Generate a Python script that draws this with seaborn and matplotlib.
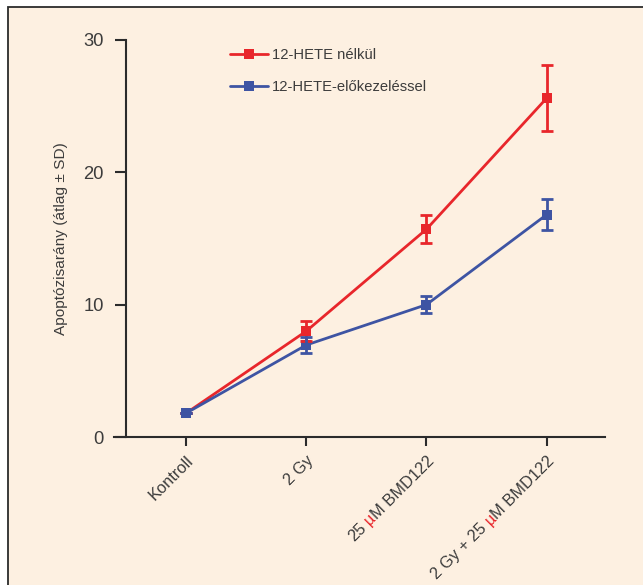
import numpy as np
import pandas as pd
import matplotlib
matplotlib.use("Agg")
import matplotlib.pyplot as plt
import seaborn as sns
from matplotlib import font_manager as fm, transforms
from matplotlib.font_manager import FontProperties
from matplotlib.lines import Line2D
from matplotlib.patches import Rectangle

# ---------------- data ----------------
categories = ["Kontroll", "2 Gy", "25 µM BMD122", "2 Gy + 25 µM BMD122"]
series_names = ["12-HETE nélkül", "12-HETE-előkezeléssel"]
red_mean = [1.8, 8.0, 15.7, 25.6]
red_sd = [0.0, 0.75, 1.05, 2.5]
blue_mean = [1.8, 6.95, 10.0, 16.8]
blue_sd = [0.0, 0.63, 0.63, 1.15]
y_ticks = [0, 10, 20, 30]
y_label = "Apoptózisarány (átlag ± SD)"

# ---------------- style ----------------
RED = "#E8262B"
BLUE = "#3E54A3"
BG = "#FDF0E1"
TEXT = "#3C3C3C"
SPINE = "#2B2B2B"

sns.set_style("ticks")
names = {f.name for f in fm.fontManager.ttflist}
cands = [("Liberation Sans Narrow", 1.0), ("DejaVu Sans Condensed", 0.80),
         ("Liberation Sans", 0.82), ("DejaVu Sans", 0.74)]
fam, scale = next((c, s) for c, s in cands if c in names)
plt.rcParams["font.family"] = [fam, "DejaVu Sans"]

fs_leg = 13 * scale
fs_x = 14 * scale * 1.03
fs_y = 14 * scale * 1.15
fs_lab = 13.5 * scale

W, H = 643, 585
fig = plt.figure(figsize=(W / 100, H / 100), dpi=100, facecolor="white")
fig.add_artist(Rectangle((8 / W, -0.05), 1.2, (1 - 7 / H) + 0.05,
                         transform=fig.transFigure, facecolor=BG,
                         edgecolor=SPINE, lw=1.3, zorder=-5))

ax = fig.add_axes([114 / W, 1 - 437 / H, (605 - 114) / W, (437 - 40) / H])
ax.patch.set_visible(False)

df = pd.DataFrame({
    "cond": categories * 2,
    "mean": red_mean + blue_mean,
    "series": [series_names[0]] * 4 + [series_names[1]] * 4,
})
sns.lineplot(data=df, x="cond", y="mean", hue="series", hue_order=series_names,
             palette=[RED, BLUE], marker="s", markersize=7.5, markeredgewidth=0,
             linewidth=2.0, sort=False, legend=False, errorbar=None, ax=ax)

for mean, sd, col in [(red_mean, red_sd, RED), (blue_mean, blue_sd, BLUE)]:
    ax.errorbar(categories, mean, yerr=sd, fmt="none", ecolor=col,
                elinewidth=2.0, capsize=4.5, capthick=2.0, zorder=3)

ax.set_xlim(-0.6, 3.486)
ax.set_ylim(0, 30)
ax.set_yticks(y_ticks)
ax.set_xticks(range(len(categories)))
ax.set_xlabel("")
ax.set_ylabel("")
sns.despine(ax=ax)
ax.spines["left"].set_position(("data", -0.5))
for s in ["left", "bottom"]:
    ax.spines[s].set_linewidth(1.5)
    ax.spines[s].set_color(SPINE)
ax.tick_params(axis="y", length=8, width=1.5, pad=8, labelsize=fs_y,
               color=SPINE, labelcolor=TEXT)
ax.tick_params(axis="x", length=6.5, width=1.5, color=SPINE, labelbottom=False)

ax.set_ylabel(y_label, fontsize=fs_lab, color=TEXT)
ax.yaxis.set_label_coords((68 - 114) / (605 - 114), 0.5)

# legend
leg_px = fs_leg * 100 / 72
handles = [Line2D([], [], color=c, lw=2.0, marker="s", markersize=7.5,
                  markeredgewidth=0) for c in (RED, BLUE)]
leg = fig.legend(handles, series_names, loc="upper left",
                 bbox_to_anchor=(230 / W, 1 - 48 / H), frameon=False,
                 fontsize=fs_leg, handlelength=38 / leg_px,
                 handletextpad=4 / leg_px,
                 labelspacing=1.24, borderpad=0, borderaxespad=0, numpoints=1)
for t in leg.get_texts():
    t.set_color(TEXT)

# rotated category labels with red µ
fig.canvas.draw()
renderer = fig.canvas.get_renderer()
fp = FontProperties(family=[fam, "DejaVu Sans"], size=fs_x)
fs_px = fs_x * fig.dpi / 72
gap = 0.22 * fs_px
base = transforms.blended_transform_factory(ax.transData, ax.transAxes)
X0, Y0 = 0.0, -16.0
c45 = np.cos(np.radians(45))
for i, cat in enumerate(categories):
    parts = cat.split("µ")
    pieces = []
    for j, p in enumerate(parts):
        if j > 0:
            pieces.append(("µ", RED))
        pieces.append((p, TEXT))
    off = 0.0
    for txt, col in reversed(pieces):
        s = txt.rstrip()
        off += (len(txt) - len(s)) * gap
        if not s:
            continue
        tr = transforms.offset_copy(base, fig=fig, x=X0 - off * c45,
                                    y=Y0 - off * c45, units="dots")
        ax.text(i, 0, s, transform=tr, rotation=45, rotation_mode="anchor",
                ha="right", va="top", fontproperties=fp, color=col)
        w = renderer.get_text_width_height_descent(s, fp, ismath=False)[0]
        off += w

fig.savefig("out.png", dpi=100, facecolor="white")
